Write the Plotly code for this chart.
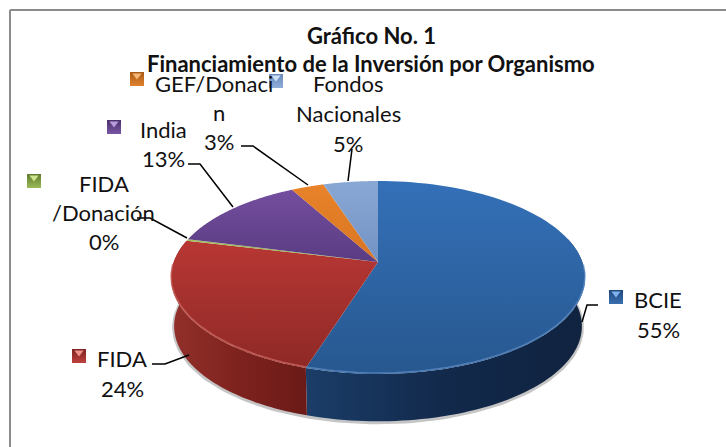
import numpy as np
import plotly.graph_objects as go

# ---- data ----
categories = ["BCIE", "FIDA", "FIDA /Donación", "India", "GEF/Donación", "Fondos Nacionales"]
values = [55, 24, 0.3, 13, 3, 5]

# ---- styling / layout ----
top_colors = [("#3470B8", "#27588F"), ("#B83734", "#8E2926"), ("#A5C25F", "#8FAD4C"),
              ("#744E9F", "#5A3C82"), ("#E8832A", "#D97422"), ("#8AA8D4", "#7292C4")]
key_colors = [("#3A6FB0", "#1F497D"), ("#C0403C", "#7A2320"), ("#9BBB59", "#5F7A2E"),
              ("#7A56A6", "#4A3168"), ("#E0822E", "#A85A15"), ("#8FAEDA", "#6A8CBC")]
key_tips = ["#7FB2EE", "#F0908C", "#CDE58E", "#B79CDD", "#F7B878", "#CFE2F6"]
wall_colors = {0: ["#1B3D68", "#12294B", "#10233F"], 1: ["#92302B", "#7E221E", "#6B1A17"]}
rim_colors = {0: "#5F8CC4", 1: "#CE6A64"}

CX, CY, A, K, C = 378, 262, 94.0, 0.1606, 204.3
DEPTH, SHRINK = 49, 0.985


def project(t, bottom=False):
    """t: clockwise angle in radians from the back of the pie; perspective map."""
    u, v = np.sin(t), np.cos(t)
    d = 1 + K * v
    x, y = C * u / d, -A * v / d
    if bottom:
        x, y = x * SHRINK, y * SHRINK + DEPTH
    return CX + x, CY + y


total = sum(values)
edges = np.concatenate([[0], np.cumsum(values)]) / total * 2 * np.pi
fig = go.Figure()

# soft shadow under the front edge
ts = np.linspace(np.radians(82), np.radians(280), 120)
sx, sy = project(ts, True)
fig.add_trace(go.Scatter(x=sx, y=sy + 1, mode="lines", line=dict(color="rgba(90,90,90,0.35)", width=4),
                         hoverinfo="skip", showlegend=False))

# side walls (only the slices that face the viewer)
wall_ranges = {0: (np.radians(75), edges[1]), 1: (edges[1], edges[2])}
for i, (a, b) in wall_ranges.items():
    ts = np.linspace(a, b, 80)
    x1, y1 = project(ts)
    x2, y2 = project(ts[::-1], True)
    c = wall_colors[i]
    scale = [[0, c[0]], [0.5, c[1]], [1, c[2]]]
    fig.add_trace(go.Scatter(
        x=np.r_[x1, x2], y=np.r_[y1, y2], fill="toself", mode="none", name=categories[i] + " (lateral)",
        fillgradient=dict(type="horizontal", colorscale=scale),
        hoverinfo="skip", showlegend=False))

# top face of each slice
for i, cat in enumerate(categories):
    ts = np.linspace(edges[i], edges[i + 1], 90)
    x, y = project(ts)
    c0, c1 = top_colors[i]
    fig.add_trace(go.Scatter(
        x=np.r_[CX, x, CX], y=np.r_[CY, y, CY], fill="toself", mode="none", name=cat,
        fillgradient=dict(type="vertical", colorscale=[[0, c1], [1, c0]]),
        hoverinfo="skip", showlegend=False))

# light bevel on the front rim
for i, (a, b) in {0: (np.radians(92), edges[1]), 1: (edges[1], np.radians(268))}.items():
    ts = np.linspace(a, b, 60)
    x, y = project(ts)
    fig.add_trace(go.Scatter(x=x, y=y - 1, mode="lines", line=dict(color=rim_colors[i], width=1.5),
                             opacity=0.75, hoverinfo="skip", showlegend=False))

# legend keys beside the labels
key_x = [616, 79, 34, 114, 137, 276]
key_y = [297, 356, 181, 127, 79, 81]
for i in range(len(categories)):
    fig.add_trace(go.Scatter(
        x=[key_x[i]], y=[key_y[i]], mode="markers",
        marker=dict(symbol="square", size=14, color=key_colors[i][1],
                    gradient=dict(type="vertical", color=key_colors[i][0]), line=dict(width=0)),
        hoverinfo="skip", showlegend=False))
    fig.add_trace(go.Scatter(
        x=[key_x[i]], y=[key_y[i] - 3.5], mode="markers",
        marker=dict(symbol="triangle-down", size=8, color=key_tips[i], line=dict(width=0)),
        hoverinfo="skip", showlegend=False))

shapes = [
    dict(type="line", x0=10, x1=726, y0=10, y1=10, line=dict(color="#8C8C8C", width=2)),
    dict(type="line", x0=10, x1=10, y0=10, y1=447, line=dict(color="#8C8C8C", width=2)),
]
leaders = [
    [(582, 322), (587, 305), (598, 305)],
    [(152, 364), (165, 364), (189, 355)],
    [(137, 218), (150, 218), (187, 238)],
    [(188, 164), (200, 164), (233, 207)],
    [(241, 146), (253, 146), (308, 185)],
    [(352, 149), (348, 181)],
]
for pts in leaders:
    path = "M " + " L ".join(f"{p[0]},{p[1]}" for p in pts)
    shapes.append(dict(type="path", path=path, line=dict(color="#000000", width=1.5)))

pct = [f"{round(100 * v / total)}%" for v in values]
FONT = "Lato"
S = 22
texts = [
    ("Gráfico No. 1", 371, 35, S, True),
    ("Financiamiento de la Inversión por Organismo", 371, 63, S, True),
    ("BCIE", 658, 299, S, False), (pct[0], 658, 329, S, False),
    ("FIDA", 122, 358, S, False), (pct[1], 122, 388, S, False),
    ("FIDA", 104, 183, S, False), ("/Donación", 103, 212, S, False), (pct[2], 104, 241, S, False),
    ("India", 163, 129, S, False), (pct[3], 163, 158, S, False),
    ("GEF/Donaci", 214, 83, S, False), ("n", 219, 112, S, False), (pct[4], 219, 141, S, False),
    ("Fondos", 348, 83, S, False), ("Nacionales", 348, 113, S, False), (pct[5], 348, 143, S, False),
]
annotations = [
    dict(text=f"<b>{t}</b>" if bold else t, x=x, y=y, xref="x", yref="y", showarrow=False,
         xanchor="center", yanchor="middle", font=dict(family=FONT, size=size, color="#111111"))
    for t, x, y, size, bold in texts
]

fig.update_layout(
    width=726, height=447, margin=dict(l=0, r=0, t=0, b=0),
    paper_bgcolor="white", plot_bgcolor="white", showlegend=False,
    xaxis=dict(range=[0, 726], visible=False, fixedrange=True),
    yaxis=dict(range=[447, 0], visible=False, fixedrange=True),
    shapes=shapes, annotations=annotations,
)
fig.write_html("out.html", post_script="document.body.style.margin='0';", config={"displayModeBar": False})
